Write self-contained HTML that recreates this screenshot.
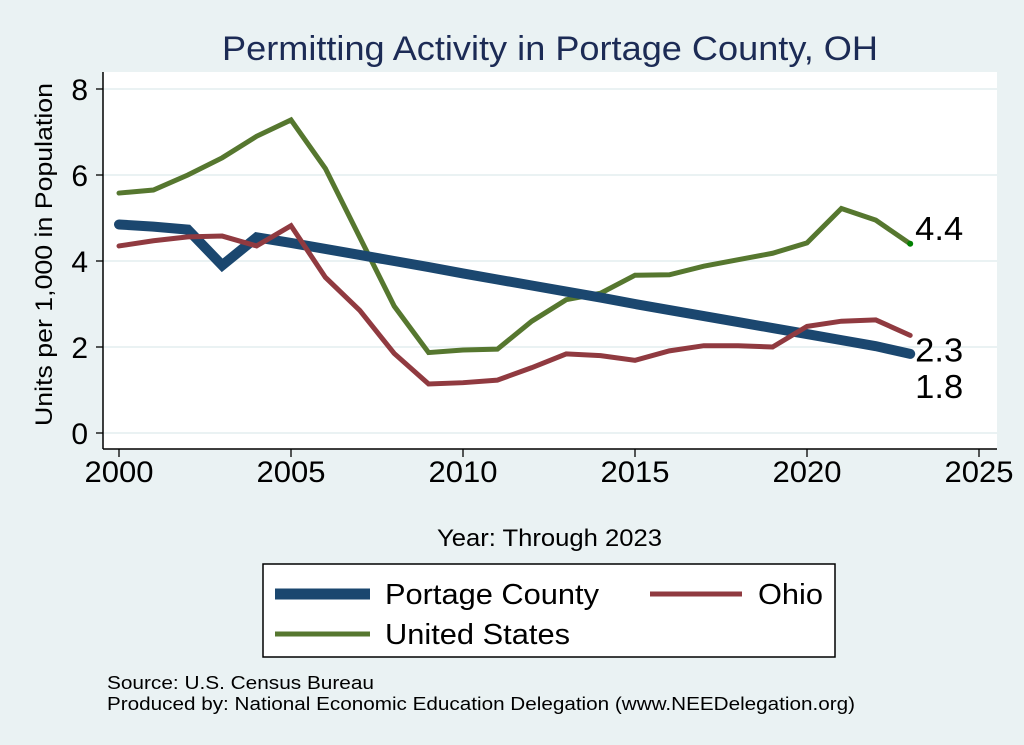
<!DOCTYPE html>
<html><head><meta charset="utf-8"><style>
body{margin:0;background:#eaf2f3;}
svg{display:block;font-family:"Liberation Sans",Arial,sans-serif;}
</style></head><body>
<svg id="chart" width="1024" height="745">
<rect x="0" y="0" width="1024" height="745" fill="#eaf2f3"/>
<text x="222" y="60" textLength="656" lengthAdjust="spacingAndGlyphs" font-size="34" fill="#1c2b55">Permitting Activity in Portage County, OH</text>
<rect x="103" y="72" width="894" height="377" fill="#fff"/>
<g id="grid"></g><g id="axes"></g><g id="series"></g><g id="labels"></g>
<text transform="translate(52,426) rotate(-90)" textLength="343" lengthAdjust="spacingAndGlyphs" font-size="24" fill="#000">Units per 1,000 in Population</text>
<text x="437" y="546" textLength="225" lengthAdjust="spacingAndGlyphs" font-size="24" fill="#000">Year: Through 2023</text>
<g>
<rect x="263" y="564" width="572" height="93" fill="#fff" stroke="#000" stroke-width="1.5"/>
<line x1="275" y1="594" x2="370" y2="594" stroke="#1b476f" stroke-width="11"/>
<text x="385" y="604" textLength="214" lengthAdjust="spacingAndGlyphs" font-size="29">Portage County</text>
<line x1="650" y1="594" x2="742" y2="594" stroke="#903a40" stroke-width="5"/>
<text x="758" y="604" textLength="65" lengthAdjust="spacingAndGlyphs" font-size="29">Ohio</text>
<line x1="275" y1="634" x2="370" y2="634" stroke="#56772f" stroke-width="5"/>
<text x="385" y="644" textLength="185" lengthAdjust="spacingAndGlyphs" font-size="29">United States</text>
</g>
<text x="107" y="689" textLength="267" lengthAdjust="spacingAndGlyphs" font-size="18">Source: U.S. Census Bureau</text>
<text x="107" y="710" textLength="748" lengthAdjust="spacingAndGlyphs" font-size="18">Produced by: National Economic Education Delegation (www.NEEDelegation.org)</text>
</svg>
<script>
const years=[2000,2001,2002,2003,2004,2005,2006,2007,2008,2009,2010,2011,2012,2013,2014,2015,2016,2017,2018,2019,2020,2021,2022,2023];
const portage=[4.85,4.80,4.73,3.90,4.55,4.42,4.28,4.14,4.00,3.86,3.71,3.57,3.43,3.29,3.15,3.00,2.86,2.72,2.58,2.44,2.30,2.16,2.02,1.84];
const ohio=[4.35,4.47,4.56,4.58,4.35,4.82,3.62,2.85,1.85,1.14,1.17,1.23,1.52,1.84,1.80,1.69,1.91,2.03,2.03,2.00,2.48,2.60,2.63,2.27];
const us=[5.58,5.65,6.00,6.40,6.90,7.28,6.15,4.55,2.95,1.87,1.93,1.95,2.60,3.10,3.25,3.67,3.68,3.88,4.03,4.18,4.42,5.22,4.95,4.40];
const xTicks=[2000,2005,2010,2015,2020,2025];
const yTicks=[0,2,4,6,8];
const NS="http://www.w3.org/2000/svg";
const xs=v=>119+(v-2000)*34.4;
const ys=v=>433-v*43;
function mk(tag,attrs,parent){const e=document.createElementNS(NS,tag);for(const k in attrs)e.setAttribute(k,attrs[k]);document.getElementById(parent).appendChild(e);return e;}
yTicks.forEach(t=>{
 const g=mk('line',{x1:103,x2:997,y1:ys(t),y2:ys(t),stroke:'#eaf2f3','stroke-width':2},'grid');
 
 
 const tk=mk('line',{x1:96,x2:103,y1:ys(t),y2:ys(t),stroke:'#000','stroke-width':1.3},'axes');
 
 
 const l=mk('text',{x:88,y:ys(t)+11,'text-anchor':'end','font-size':30},'axes');
 l.textContent=t;
 
 
});
xTicks.forEach(t=>{
 const tk=mk('line',{x1:xs(t),x2:xs(t),y1:449,y2:457,stroke:'#000','stroke-width':1.3},'axes');
 
 
 const l=mk('text',{x:xs(t)-34.5,y:482,'font-size':30,textLength:69,lengthAdjust:'spacingAndGlyphs'},'axes');
 l.textContent=t;
 
 
});
const ya=mk('line',{x1:103,x2:103,y1:72,y2:449,stroke:'#000','stroke-width':1.5},'axes');


const xa=mk('line',{x1:103,x2:997,y1:449,y2:449,stroke:'#000','stroke-width':1.5},'axes');


function line(vals,color,w,name){
 const p=mk('polyline',{points:vals.map((v,i)=>xs(years[i])+','+ys(v)).join(' '),fill:'none',stroke:color,'stroke-width':w,'stroke-linejoin':'miter','stroke-linecap':'round'},'series');
 
 
}
line(us,'#56772f',5,'line-united-states');
line(portage,'#1b476f',10,'line-portage-county');
line(ohio,'#903a40',5,'line-ohio');
const n=years.length-1;
const dot=mk('circle',{cx:xs(years[n]),cy:ys(us[n]),r:3,fill:'#008000'},'series');


const lbls=[[us[n],ys(us[n])-4,'end-label-us'],[ohio[n],ys(ohio[n])+26,'end-label-ohio'],[portage[n],ys(portage[n])+44,'end-label-portage']];
lbls.forEach(([v,y,name])=>{
 const t=mk('text',{x:xs(years[n])+5,y:y,'font-size':33,textLength:48,lengthAdjust:'spacingAndGlyphs'},'labels');
 t.textContent=v.toFixed(1);
 
 
});
</script>
</body></html>
